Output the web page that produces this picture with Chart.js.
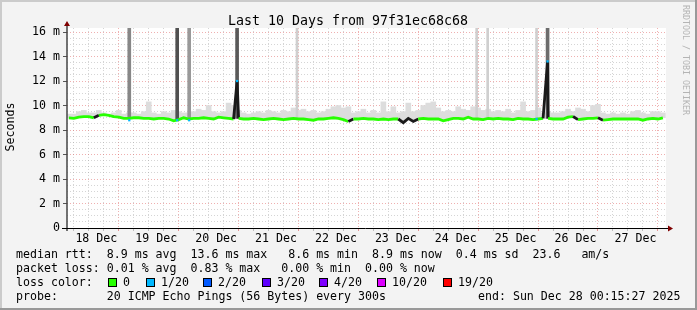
<!DOCTYPE html>
<html>
<head>
<meta charset="utf-8">
<script src="https://cdn.jsdelivr.net/npm/chart.js@4.4.1/dist/chart.umd.min.js"></script>
<style>
html, body { margin: 0; padding: 0; background: #f3f3f3; }
canvas { display: block; }
</style>
</head>
<body>
<canvas id="smokeChart" width="697" height="310"></canvas>
<script>
// x values are hours since 18 Dec 00:00, one bin = 2 hours
var dayLabels = ['18 Dec', '19 Dec', '20 Dec', '21 Dec', '22 Dec', '23 Dec', '24 Dec', '25 Dec', '26 Dec', '27 Dec'];
var yTickValues = [0, 2, 4, 6, 8, 10, 12, 14, 16];

// median rtt per 2h bin (ms)
var medianRtt = [
	9.0, 8.95, 9.05, 9.1, 9.1, 9.0, 9.2, 9.25, 9.2, 9.1, 9.05, 8.95,
	8.95, 9.0, 9.0, 8.95, 8.95, 8.9, 8.95, 8.95, 8.9, 8.75, 8.85, 9.0,
	8.9, 8.95, 8.95, 9.0, 8.95, 8.9, 9.05, 9.0, 8.95, 8.9, 8.95, 8.9,
	8.9, 8.95, 8.9, 8.85, 8.9, 8.95, 8.9, 8.85, 8.9, 8.95, 8.9, 8.9,
	8.85, 8.8, 8.9, 8.9, 8.95, 9.0, 8.95, 8.85, 8.7, 8.9, 8.9, 8.95,
	8.9, 8.9, 8.85, 8.9, 8.85, 8.9, 8.9, 8.6, 8.95, 8.7, 8.9, 8.95,
	8.9, 8.9, 8.9, 8.75, 8.85, 8.95, 8.95, 8.9, 9.05, 8.9, 8.9, 8.85,
	8.95, 8.9, 8.95, 8.9, 8.9, 8.85, 8.95, 8.9, 8.9, 8.85, 8.9, 8.95,
	8.95, 8.9, 8.9, 8.9, 9.05, 9.1, 8.85, 8.9, 8.95, 8.95, 9.0, 8.8,
	8.85, 8.9, 8.9, 8.9, 8.9, 8.9, 8.9, 8.8, 8.9, 8.95, 8.9, 9.0
];
// top of the grey smoke per 2h bin (ms)
var smokeMax = [
	9.3, 9.3, 9.5, 9.6, 9.4, 9.4, 9.6, 9.4, 9.3, 9.4, 9.6, 9.3,
	9.4, 9.4, 9.3, 9.5, 10.3, 9.4, 9.3, 9.5, 9.4, 9.6, 9.5, 9.4,
	9.4, 9.5, 9.7, 9.6, 10.0, 9.5, 9.4, 9.5, 10.2, 10.0, 9.6, 9.4,
	9.3, 9.4, 9.5, 9.4, 9.6, 9.5, 9.4, 9.6, 9.5, 9.8, 9.6, 9.7,
	9.5, 9.6, 9.4, 9.5, 9.7, 9.9, 10.0, 9.8, 9.9, 9.4, 9.5, 9.7,
	9.4, 9.6, 9.4, 10.3, 9.5, 9.9, 9.4, 9.5, 10.2, 9.5, 9.6, 10.0,
	10.2, 10.3, 9.8, 9.5, 9.6, 9.5, 9.9, 9.7, 9.6, 9.9, 9.8, 9.6,
	9.7, 9.5, 9.6, 9.5, 9.7, 9.4, 9.6, 10.3, 9.5, 9.6, 9.8, 9.4,
	9.5, 9.4, 9.4, 9.5, 9.7, 9.5, 9.8, 9.7, 9.5, 10.0, 10.1, 9.4,
	9.3, 9.4, 9.3, 9.4, 9.3, 9.5, 9.6, 9.4, 9.3, 9.5, 9.5, 9.4
];
// single samples where the smoke goes off the top
var spikeHours = [25.2, 44.4, 49.2, 68.4, 92.4, 164.4, 168.8, 188.4, 192.8];
var spikeHighPings = [10, 16, 8, 15, 2, 2, 2, 2, 13];
// median samples far above the rest
var medianSpikeHours = [68.4, 192.8];
var medianSpikeValues = [12.0, 13.6];
// samples with lost packets (1/20)
var lossHours = [25.2, 44.4, 49.2, 68.4, 188.4, 192.8];
var lossValues = [8.8, 8.8, 8.8, 12.0, 8.9, 13.6];

var lossLabels = ['0', '1/20', '2/20', '3/20', '4/20', '10/20', '19/20'];
var lossColors = ['#26ff00', '#00b8ff', '#0059ff', '#5e00ff', '#7e00ff', '#dd00ff', '#ff0000'];

var MONO = '"DejaVu Sans Mono", monospace';
var Y_TOP = 16.33;

var medianPoints = medianRtt.map(function(v, i) { return { x: i * 2 + 1, y: v }; });
medianSpikeHours.forEach(function(h, i) { medianPoints.push({ x: h, y: medianSpikeValues[i] }); });
medianPoints.sort(function(a, b) { return a.x - b.x; });

var smokeBars = smokeMax.map(function(v, i) { return { x: i * 2 + 1, y: [medianRtt[i], v] }; });

var strongSpikes = [], faintSpikes = [];
spikeHours.forEach(function(h, i) {
	var p = { x: h, y: [medianRtt[Math.floor(h / 2)], 16.5], n: spikeHighPings[i] };
	if (spikeHighPings[i] >= 5) strongSpikes.push(p); else faintSpikes.push(p);
});
function spikeGrey(ctx) {
	var g = Math.round(225 - ctx.raw.n * 9);
	return 'rgb(' + g + ',' + g + ',' + g + ')';
}

var lossPoints = lossHours.map(function(h, i) { return { x: h, y: lossValues[i] }; });

var decorPlugin = {
	id: 'decor',
	beforeDraw: function(chart) {
		var ctx = chart.ctx, a = chart.chartArea;
		ctx.save();
		ctx.fillStyle = '#f3f3f3';
		ctx.fillRect(0, 0, chart.width, chart.height);
		ctx.fillStyle = '#cbcbcb';
		ctx.fillRect(0, 0, chart.width, 2);
		ctx.fillRect(0, 0, 2, chart.height);
		ctx.fillStyle = '#999999';
		ctx.fillRect(0, chart.height - 2, chart.width, 2);
		ctx.fillRect(chart.width - 2, 0, 2, chart.height);
		ctx.fillStyle = '#ffffff';
		ctx.fillRect(a.left, a.top, a.right - a.left, a.bottom - a.top);
		ctx.restore();
	},
	afterDraw: function(chart) {
		var ctx = chart.ctx, a = chart.chartArea;
		ctx.save();
		// axes
		ctx.strokeStyle = '#444';
		ctx.lineWidth = 1.5;
		ctx.beginPath();
		ctx.moveTo(a.left, 25); ctx.lineTo(a.left, a.bottom + 3);
		ctx.stroke();
		ctx.strokeStyle = '#000';
		ctx.lineWidth = 1;
		ctx.beginPath();
		ctx.moveTo(a.left - 5, a.bottom + 0.5); ctx.lineTo(a.right + 3, a.bottom + 0.5);
		ctx.stroke();
		ctx.fillStyle = '#7f0000';
		ctx.beginPath();
		ctx.moveTo(a.left, 21); ctx.lineTo(a.left - 3, 26); ctx.lineTo(a.left + 3, 26);
		ctx.fill();
		ctx.beginPath();
		ctx.moveTo(a.right + 7, a.bottom + 0.5); ctx.lineTo(a.right + 2, a.bottom - 2.5); ctx.lineTo(a.right + 2, a.bottom + 3.5);
		ctx.fill();

		// title
		ctx.fillStyle = '#000';
		ctx.font = '13.3px ' + MONO;
		ctx.textAlign = 'center';
		ctx.textBaseline = 'alphabetic';
		ctx.fillText('Last 10 Days from 97f31ec68c68', 348, 24.5);

		// y title
		ctx.font = '11.6px ' + MONO;
		ctx.save();
		ctx.translate(14, 127);
		ctx.rotate(-Math.PI / 2);
		ctx.fillText('Seconds', 0, 0);
		ctx.restore();

		// watermark
		ctx.save();
		ctx.fillStyle = '#b4b4b4';
		ctx.font = '8.3px ' + MONO;
		ctx.translate(683, 5);
		ctx.rotate(Math.PI / 2);
		ctx.textAlign = 'left';
		ctx.fillText('RRDTOOL / TOBI OETIKER', 0, 0);
		ctx.restore();

		// legend lines
		ctx.textAlign = 'left';
		ctx.fillStyle = '#000';
		ctx.font = '11.6px ' + MONO;
		ctx.fillText('median rtt:  8.9 ms avg  13.6 ms max   8.6 ms min  8.9 ms now  0.4 ms sd  23.6   am/s', 16, 258);
		ctx.fillText('packet loss: 0.01 % avg  0.83 % max   0.00 % min  0.00 % now', 16, 272);
		ctx.fillText('loss color:', 16, 286);
		var sq = [108, 146, 203, 262, 319, 377, 443];
		lossLabels.forEach(function(l, i) {
			ctx.fillStyle = lossColors[i];
			ctx.fillRect(sq[i] + 0.5, 278.5, 8, 8);
			ctx.strokeStyle = '#000';
			ctx.lineWidth = 1;
			ctx.strokeRect(sq[i] + 0.5, 278.5, 8, 8);
			ctx.fillStyle = '#000';
			ctx.fillText(l, sq[i] + 15, 286);
		});
		ctx.fillText('probe:       20 ICMP Echo Pings (56 Bytes) every 300s', 16, 300);
		ctx.fillText('end: Sun Dec 28 00:15:27 2025', 478, 300);
		ctx.restore();
	}
};

var ctx = document.getElementById('smokeChart');
var smokeChart = new Chart(ctx, {
	type: 'line',
	data: {
		datasets: [{
			type: 'bar',
			data: smokeBars,
			backgroundColor: '#dddddd',
			borderWidth: 0,
			barThickness: 5,
			grouped: false,
			order: 4
		}, {
			type: 'bar',
			data: faintSpikes,
			backgroundColor: spikeGrey,
			borderWidth: 0,
			barThickness: 2,
			grouped: false,
			order: 3
		}, {
			type: 'bar',
			data: strongSpikes,
			backgroundColor: spikeGrey,
			borderWidth: 0,
			barThickness: 3,
			grouped: false,
			order: 2
		}, {
			data: medianPoints,
			borderColor: '#26ff00',
			borderWidth: 2.8,
			pointRadius: 0,
			tension: 0,
			segment: {
				borderColor: function(c) {
					return Math.abs(c.p1.parsed.y - c.p0.parsed.y) > 0.18 ? '#1a1a1a' : undefined;
				}
			},
			order: 1
		}, {
			data: lossPoints,
			showLine: false,
			pointStyle: 'rect',
			pointRadius: 1.6,
			pointBorderWidth: 0,
			pointBackgroundColor: '#00b8ff',
			order: 0
		}]
	},
	options: {
		responsive: false,
		animation: false,
		devicePixelRatio: 1,
		events: [],
		layout: { padding: { left: 0, right: 31, top: 28, bottom: 62 } },
		plugins: { legend: { display: false }, tooltip: { enabled: false } },
		scales: {
			x: {
				type: 'linear',
				min: 0.25,
				max: 240.25,
				offset: false,
				afterBuildTicks: function(scale) {
					var t = [];
					for (var h = 6; h <= 240; h += 6) t.push({ value: h });
					scale.ticks = t;
				},
				afterFit: function(scale) { scale.height = 20; },
				ticks: {
					autoSkip: false,
					maxRotation: 0,
					padding: 1,
					color: '#000',
					font: { family: MONO, size: 11.6 },
					callback: function(v) {
						return v % 24 === 12 ? dayLabels[(v - 12) / 24] : '';
					}
				},
				grid: {
					color: function(c) { return c.tick && c.tick.value % 24 === 0 ? 'rgba(220,80,80,0.45)' : 'rgba(150,150,150,0.4)'; },
					tickColor: function(c) { return c.tick && c.tick.value % 24 === 0 ? 'rgba(220,80,80,0.6)' : 'rgba(150,150,150,0.6)'; },
					tickLength: 3,
					lineWidth: 1
				},
				border: { display: false, dash: [1, 2] }
			},
			y: {
				min: 0,
				max: Y_TOP,
				afterBuildTicks: function(scale) {
					var t = [];
					for (var v = 0; v <= 16; v += 0.5) t.push({ value: v });
					scale.ticks = t;
				},
				afterFit: function(scale) { scale.width = 67; },
				ticks: {
					autoSkip: false,
					padding: 3,
					color: '#000',
					font: { family: MONO, size: 11.6 },
					callback: function(v) {
						if (yTickValues.indexOf(v) < 0) return '';
						return v === 0 ? '0' : v + ' m';
					}
				},
				grid: {
					color: function(c) { return c.tick && c.tick.value % 2 === 0 ? 'rgba(220,80,80,0.45)' : 'rgba(150,150,150,0.4)'; },
					tickColor: function(c) { return c.tick && c.tick.value % 2 === 0 ? '#555' : 'rgba(0,0,0,0)'; },
					tickLength: 4,
					lineWidth: 1
				},
				border: { display: false, dash: [1, 2] }
			}
		}
	},
	plugins: [decorPlugin]
});
</script>
</body>
</html>
